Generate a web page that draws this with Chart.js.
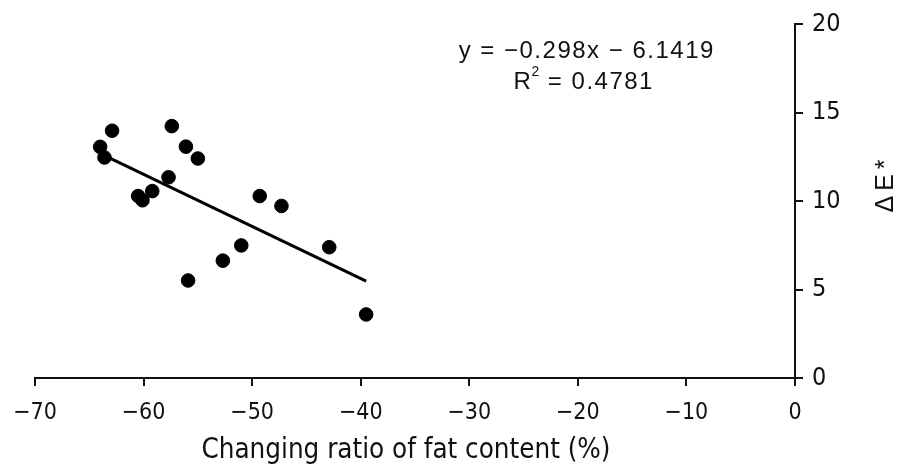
<!DOCTYPE html>
<html>
<head>
<meta charset="utf-8">
<script src="https://cdn.jsdelivr.net/npm/chart.js@4"></script>
<style>
  html, body { margin: 0; padding: 0; background: #fff; }
  #chart { width: 897px; height: 467px; position: relative; }
</style>
</head>
<body>
<div id="chart"><canvas id="c"></canvas></div>
<script>
// data
const fatRatio = [-62.9, -64.0, -63.6, -57.4, -56.1, -55.0, -57.7, -59.2, -60.5, -60.1,
                  -49.3, -47.3, -51.0, -52.7, -55.9, -42.9, -39.5];
const deltaE   = [13.97, 13.06, 12.46, 14.23, 13.07, 12.40, 11.34, 10.56, 10.28, 10.04,
                  10.28, 9.72, 7.49, 6.63, 5.51, 7.39, 3.59];
const trendX = [-63.25, -39.5];
const trendY = [12.46, 5.47];
const xTicks = [-70, -60, -50, -40, -30, -20, -10, 0];
const yTicks = [0, 5, 10, 15, 20];
const xTitle = 'Changing ratio of fat content (%)';
const yTitle = 'ΔE*';
const eqText = 'y = −0.298x − 6.1419';
const r2Value = '0.4781';

const numFont = "'Liberation Sans', Arial, sans-serif";
const narrowFont = "'Liberation Sans Narrow', 'DejaVu Sans Condensed', sans-serif";

// draw a string char by char with extra gap, returns width
function spaced(c, s, x, y, gap, measureOnly) {
  let w = 0;
  for (const ch of s) {
    if (!measureOnly) c.fillText(ch, x + w, y);
    w += c.measureText(ch).width + gap;
  }
  return w - gap;
}

const textPlugin = {
  id: 'texts',
  afterDraw(chart) {
    const c = chart.ctx;
    c.save();
    c.fillStyle = '#111';
    c.textBaseline = 'alphabetic';
    c.textAlign = 'left';
    // equation
    c.font = "24px " + numFont;
    const wEq = spaced(c, eqText, 0, 0, 1.5, true);
    spaced(c, eqText, 586 - wEq / 2, 58, 1.5);
    // R² line
    const r2b = ' = ' + r2Value;
    const wA = c.measureText('R').width;
    const wB = spaced(c, r2b, 0, 0, 1.5, true);
    c.font = "14px " + numFont;
    const wS = c.measureText('2').width + 1;
    const x0 = 583 - (wA + wS + wB) / 2;
    c.font = "24px " + numFont;
    c.fillText('R', x0, 89);
    c.font = "14px " + numFont;
    c.fillText('2', x0 + wA + 0.5, 76);
    c.font = "24px " + numFont;
    spaced(c, r2b, x0 + wA + wS, 89, 1.5);
    // x title
    c.textAlign = 'center';
    c.font = "27.5px " + narrowFont;
    c.fillText(xTitle, 406, 458);
    // y title, reading bottom to top
    c.textAlign = 'left';
    c.translate(893, 186);
    c.rotate(-Math.PI / 2);
    c.font = "25px " + numFont;
    const wT = spaced(c, yTitle, 0, 0, 5, true);
    spaced(c, yTitle, -wT / 2, 0, 5);
    c.restore();
  }
};

new Chart(document.getElementById('c'), {
  type: 'scatter',
  data: {
    datasets: [{
      label: 'points',
      data: fatRatio.map((x, i) => ({ x: x, y: deltaE[i] })),
      backgroundColor: '#000',
      borderColor: '#000',
      pointRadius: 6.8,
      pointHoverRadius: 6.8
    }, {
      label: 'trend',
      type: 'line',
      data: trendX.map((x, i) => ({ x: x, y: trendY[i] })),
      borderColor: '#000',
      borderWidth: 3,
      pointRadius: 0,
      fill: false
    }]
  },
  options: {
    responsive: true,
    maintainAspectRatio: false,
    animation: false,
    layout: { padding: { left: 35, top: 20, right: 0, bottom: 0 } },
    plugins: {
      legend: { display: false },
      tooltip: { enabled: false }
    },
    scales: {
      x: {
        type: 'linear',
        position: 'bottom',
        min: -70, max: 0,
        afterBuildTicks: s => { s.ticks = xTicks.map(v => ({ value: v })); },
        afterFit: s => { s.height = 89; },
        grid: { drawOnChartArea: false, drawTicks: true, tickLength: 8, color: '#111', lineWidth: 2 },
        border: { color: '#111', width: 2 },
        ticks: {
          color: '#111',
          padding: 13,
          maxRotation: 0,
          font: { family: narrowFont, size: 23 },
          callback: v => String(v).replace('-', '−')
        }
      },
      y: {
        type: 'linear',
        position: 'right',
        min: 0, max: 20,
        afterBuildTicks: s => { s.ticks = yTicks.map(v => ({ value: v })); },
        afterFit: s => { s.width = 102; },
        grid: { drawOnChartArea: false, drawTicks: true, tickLength: 8, color: '#111', lineWidth: 2 },
        border: { color: '#111', width: 2 },
        ticks: {
          color: '#111',
          padding: 9,
          font: { family: narrowFont, size: 25 }
        }
      }
    }
  },
  plugins: [textPlugin]
});
</script>
</body>
</html>
